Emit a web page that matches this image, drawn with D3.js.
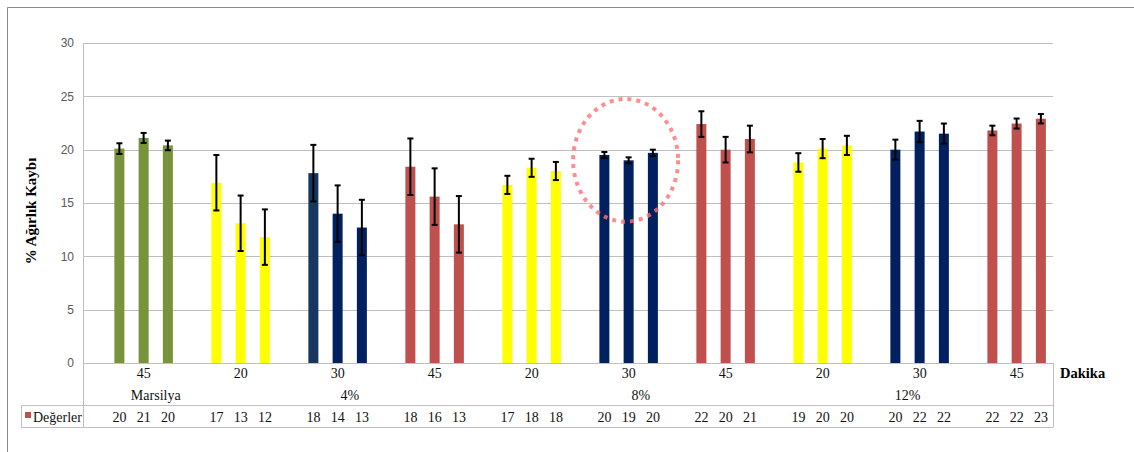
<!DOCTYPE html>
<html><head><meta charset="utf-8">
<script src="https://cdn.jsdelivr.net/npm/d3@7"></script>
<style>body{margin:0;background:#fff}svg{display:block}
.serif{font-family:"Liberation Serif","Times New Roman","DejaVu Serif",serif}
.sans{font-family:"Liberation Sans",Arial,sans-serif}
</style>
</head><body>
<svg id="c" width="1134" height="452"></svg>
<script>
// ---- data ----
const groupMinutes = ["45","20","30","45","20","30","45","20","30","45"];
const groupConc = ["Marsilya","4%","4%","4%","8%","8%","8%","12%","12%","12%"];
const values = [20.1,21.1,20.4, 16.9,13.1,11.8, 17.8,14.0,12.7, 18.4,15.6,13.0, 16.7,18.3,18.0,
                19.5,19.0,19.7, 22.4,20.0,21.0, 18.8,20.1,20.4, 20.0,21.7,21.5, 21.8,22.45,22.9];
const errors = [0.5,0.47,0.45, 2.6,2.6,2.6, 2.65,2.65,2.6, 2.65,2.65,2.65, 0.85,0.85,0.85,
                0.28,0.28,0.3, 1.2,1.2,1.25, 0.87,0.9,0.9, 0.94,1.0,0.95, 0.45,0.47,0.44];
const barColors = ["#77933C","#77933C","#77933C","#FFFF00","#FFFF00","#FFFF00","#17375E","#002060","#002060",
                   "#C0504D","#C0504D","#C0504D","#FFFF00","#FFFF00","#FFFF00","#002060","#002060","#002060",
                   "#C0504D","#C0504D","#C0504D","#FFFF00","#FFFF00","#FFFF00","#002060","#002060","#002060",
                   "#C0504D","#C0504D","#C0504D"];
const yTicks = [0,5,10,15,20,25,30];
const yTitle = "% Ağırlık Kaybı";
const xTitle = "Dakika";
const legendLabel = "Değerler";
const highlightGroup = 5;

// ---- layout ----
const svg = d3.select("#c");
const L = 83, R = 1053, T = 43, B = 363;
const slotsPerGroup = 4, nSlots = groupMinutes.length * slotsPerGroup;
const slot = d3.scaleBand().domain(d3.range(nSlots)).range([L, R]);
const y = d3.scaleLinear().domain([0, 30]).range([B, T]);
const bw = 10;
const slotOf = j => Math.floor(j/3)*slotsPerGroup + 1 + (j%3);
const cx = j => slot(slotOf(j)) + slot.bandwidth()/2;
const grid = "#BFBFBF";
const txt = "#111";

// outer border
svg.append("path").attr("d","M7.5,452 V7.5 H1134").attr("fill","none").attr("stroke","#8a8a8a").attr("stroke-width",1);

// gridlines
svg.append("g").selectAll("line").data(yTicks.filter(t=>t>0)).join("line")
  .attr("x1",L).attr("x2",R).attr("y1",d=>Math.round(y(d))+0.5).attr("y2",d=>Math.round(y(d))+0.5)
  .attr("stroke",grid).attr("stroke-width",1);

// y axis
const yAxis = svg.append("g").attr("transform",`translate(${L},0)`)
  .call(d3.axisLeft(y).tickValues(yTicks).tickSize(0).tickPadding(9));
yAxis.select(".domain").remove();
yAxis.attr("font-family",null).attr("font-size",null);
yAxis.selectAll("text").attr("class","sans").style("font-size","12px").attr("fill","#595959");

// frame lines of axis area / table
const tTop = 405.5, tBot = 427.5;
const lines = [
  [L+0.5, T, L+0.5, tBot],
  [L, B+0.5, R, B+0.5],
  [R+0.5, B, R+0.5, tBot],
  [21.5, tTop, R, tTop],
  [21.5, tBot, R, tBot],
  [21.5, tTop, 21.5, tBot]
];
svg.append("g").selectAll("line").data(lines).join("line")
  .attr("x1",d=>d[0]).attr("y1",d=>d[1]).attr("x2",d=>d[2]).attr("y2",d=>d[3])
  .attr("stroke",grid).attr("stroke-width",1);

// bars
svg.append("g").selectAll("rect").data(values).join("rect")
  .attr("x",(d,i)=>cx(i)-bw/2).attr("width",bw)
  .attr("y",d=>y(d)).attr("height",d=>y(0)-y(d))
  .attr("fill",(d,i)=>barColors[i]);

// error bars
const eg = svg.append("g").attr("stroke","#000").attr("stroke-width",2);
values.forEach((v,i)=>{
  const x0 = cx(i), t = y(v+errors[i]), b = y(v-errors[i]);
  eg.append("line").attr("x1",x0).attr("x2",x0).attr("y1",t).attr("y2",b);
  eg.append("line").attr("x1",x0-3).attr("x2",x0+3).attr("y1",t).attr("y2",t);
  eg.append("line").attr("x1",x0-3).attr("x2",x0+3).attr("y1",b).attr("y2",b);
});

// level-1 category labels (minutes)
svg.append("g").selectAll("text").data(groupMinutes).join("text").attr("class","serif")
  .attr("x",(d,g)=>cx(g*3+1)).attr("y",378).attr("text-anchor","middle")
  .style("font-size","14px").attr("fill",txt).text(d=>d);

// level-2 labels (concentration)
const concs = Array.from(new Set(groupConc));
const spans = concs.map(c=>{
  const gs = groupConc.map((v,i)=>v===c?i:-1).filter(i=>i>=0);
  const s0 = d3.min(gs)*slotsPerGroup+1;
  const s1 = Math.min(d3.max(gs)*slotsPerGroup+5, nSlots-1);
  return {c, x:(slot(s0) + L + s1*slot.step())/2};
});
svg.append("g").selectAll("text").data(spans).join("text").attr("class","serif")
  .attr("x",d=>d.x).attr("y",400).attr("text-anchor","middle")
  .style("font-size","14px").attr("fill",txt).text(d=>d.c);

// data table values
svg.append("g").selectAll("text").data(values).join("text").attr("class","serif")
  .attr("x",(d,i)=>cx(i)).attr("y",421.5).attr("text-anchor","middle")
  .style("font-size","14px").attr("fill",txt).text(d=>Math.round(d));

// legend key in table
svg.append("rect").attr("x",25).attr("y",412).attr("width",6).attr("height",6).attr("fill","#C0504D");
svg.append("text").attr("class","serif").attr("x",33).attr("y",421.5).style("font-size","14px")
  .attr("fill",txt).text(legendLabel);

// titles
svg.append("text").attr("class","serif").attr("transform",`translate(36,${(T+B)/2+8}) rotate(-90)`)
  .attr("text-anchor","middle").attr("font-weight","bold")
  .style("font-size","15px").attr("fill","#000").text(yTitle);
svg.append("text").attr("class","serif").attr("x",1060).attr("y",378).attr("font-weight","bold")
  .style("font-size","14.5px").attr("fill","#000").text(xTitle);

// highlight ellipse
const hc = cx(highlightGroup*3+1);
svg.append("ellipse").attr("cx",hc-3).attr("cy",y(19)).attr("rx",52.5).attr("ry",y(0)-y(5.75))
  .attr("fill","none").attr("stroke","#FF7070").attr("stroke-opacity",0.8)
  .attr("stroke-width",4).attr("stroke-dasharray","4,5");
</script>
</body></html>
